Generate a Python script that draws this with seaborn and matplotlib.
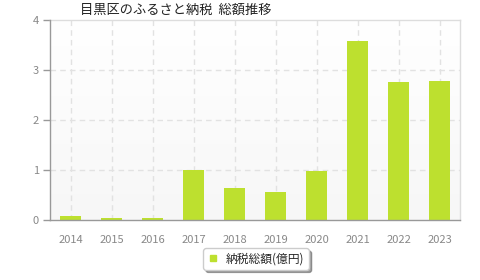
import matplotlib
matplotlib.use("Agg")
import matplotlib.pyplot as plt
import seaborn as sns
import numpy as np
import pandas as pd
from matplotlib.lines import Line2D

years = ["2014", "2015", "2016", "2017", "2018", "2019", "2020", "2021", "2022", "2023"]
values = [0.09, 0.035, 0.04, 1.0, 0.65, 0.56, 0.99, 3.58, 2.76, 2.78]
title = "目黒区のふるさと納税  総額推移"
series_label = "納税総額(億円)"
yticks = [0, 1, 2, 3, 4]

sns.set_theme(style="white")
plt.rcParams["font.family"] = ["Noto Sans CJK JP", "DejaVu Sans"]

df = pd.DataFrame({"year": years, "value": values})

fig = plt.figure(figsize=(4.8, 2.8), dpi=100)
ax = fig.add_axes([50 / 480, 1 - 220 / 280, 410 / 480, 200 / 280])

# gradient background
grad = np.linspace(0, 1, 100).reshape(-1, 1)
ax.imshow(grad, extent=[0, 1, 0, 1], transform=ax.transAxes,
          cmap=matplotlib.colors.LinearSegmentedColormap.from_list("g", ["#f7f7f7", "#ffffff"]),
          origin="lower", aspect="auto", zorder=0)

sns.barplot(data=df, x="year", y="value", color="#bde02f", width=0.49, saturation=1,
            linewidth=0, ax=ax, zorder=3)

ax.set_xlim(-0.5, len(years) - 0.5)
ax.set_ylim(0, 4)
ax.set_yticks(yticks)
ax.set_xlabel("")
ax.set_ylabel("")

for y in yticks[1:-1]:
    ax.axhline(y, color="#e2e2e2", lw=1, ls=(0, (4, 3)), zorder=1)
for i in range(len(years)):
    ax.axvline(i, color="#e2e2e2", lw=1, ls=(0, (4, 3)), zorder=1)

for s in ["left", "bottom"]:
    ax.spines[s].set_color("#999999")
    ax.spines[s].set_linewidth(1)
    ax.spines[s].set_zorder(4)
for s in ["top", "right"]:
    ax.spines[s].set_color("#dddddd")
    ax.spines[s].set_linewidth(1)

ax.tick_params(axis="y", which="both", left=True, length=5, width=1, color="#999999",
               labelcolor="#888888", labelsize=8, pad=3)
ax.tick_params(axis="x", which="both", bottom=False, labelcolor="#888888", labelsize=8, pad=5)

fig.text(80 / 480, 1 - 10 / 280, title, fontsize=9.5, color="#222222", ha="left", va="center")

handle = Line2D([], [], marker="s", color="none", markerfacecolor="#bde02f",
                markeredgecolor="#bde02f", markersize=5)
leg = fig.legend([handle], [series_label], loc="center", bbox_to_anchor=(256 / 480, 1 - 259 / 280),
                 frameon=True, fancybox=True, shadow=True, fontsize=8.5, handlelength=1,
                 handletextpad=0.6, borderpad=0.35, borderaxespad=0)
leg.get_frame().set_edgecolor("#cccccc")
leg.get_frame().set_facecolor("white")

fig.savefig("out.png", dpi=100)
